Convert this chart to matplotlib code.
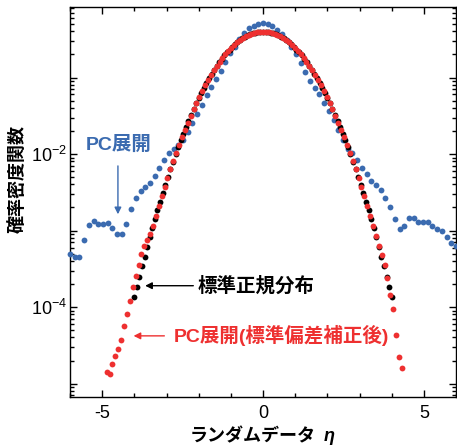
import matplotlib
matplotlib.use("Agg")
import matplotlib.pyplot as plt
import numpy as np
from matplotlib.ticker import FixedLocator, FixedFormatter, LogLocator, NullFormatter, MultipleLocator

plt.rcParams['font.family'] = ['Liberation Sans', 'Noto Sans CJK JP']
plt.rcParams['axes.unicode_minus'] = False
plt.rcParams['mathtext.fontset'] = 'custom'
plt.rcParams['mathtext.rm'] = 'Liberation Sans'

BLUE = '#3b6bb0'
RED = '#ee3030'

# PC展開 (blue), grid -6..6
blue_x = np.linspace(-6, 6, 83)
blue_pdf = [
    4.9e-4, 4.57e-4, 4.57e-4, 7.6e-4, 1.17e-3, 1.32e-3, 1.20e-3, 1.20e-3, 1.26e-3, 1.07e-3,
    8.9e-4, 8.9e-4, 1.20e-3, 1.91e-3, 2.63e-3, 3.31e-3, 3.72e-3, 4.2e-3, 5.1e-3, 6.6e-3,
    8.3e-3, 1.02e-2, 1.17e-2, 1.32e-2, 1.51e-2, 1.95e-2, 2.57e-2, 3.31e-2, 4.37e-2, 5.89e-2,
    7.6e-2, 9.5e-2, 0.123, 0.161, 0.207, 0.253, 0.316, 0.380, 0.440, 0.475,
    0.501, 0.515, 0.501, 0.471, 0.418, 0.371, 0.309, 0.253, 0.201, 0.156,
    0.117, 0.0912, 0.0724, 0.0603, 0.0468, 0.0363, 0.0275, 0.0209, 0.0151, 0.0117,
    0.0102, 8.3e-3, 6.5e-3, 5.4e-3, 4.5e-3, 3.9e-3, 3.39e-3, 2.63e-3, 2.0e-3, 1.41e-3,
    1.05e-3, 1.15e-3, 1.45e-3, 1.45e-3, 1.29e-3, 1.29e-3, 1.29e-3, 1.15e-3, 1.05e-3, 1.0e-3,
    8.3e-4, 6.9e-4, 6.2e-4,
]

# 標準正規分布 (black), grid -4..4
black_x = np.linspace(-4, 4, 101)
black_pdf = [
    1.338e-4, 1.837e-4, 2.505e-4, 3.395e-4, 4.573e-4, 6.119e-4, 8.131e-4, 1.074e-3, 1.410e-3, 1.840e-3,
    2.384e-3, 3.070e-3, 3.927e-3, 4.993e-3, 6.307e-3, 7.915e-3, 9.873e-3, 1.224e-2, 1.506e-2, 1.843e-2,
    2.239e-2, 2.705e-2, 3.246e-2, 3.871e-2, 4.586e-2, 5.399e-2, 6.316e-2, 7.341e-2, 8.478e-2, 9.728e-2,
    0.1109, 0.1257, 0.1415, 0.1582, 0.1758, 0.1942, 0.2131, 0.2323, 0.2516, 0.2709,
    0.2897, 0.3079, 0.3251, 0.3410, 0.3555, 0.3683, 0.3790, 0.3876, 0.3939, 0.3977,
    0.3989,
    0.3977, 0.3939, 0.3876, 0.3790, 0.3683, 0.3555, 0.3410, 0.3251, 0.3079, 0.2897,
    0.2709, 0.2516, 0.2323, 0.2131, 0.1942, 0.1758, 0.1582, 0.1415, 0.1257, 0.1109,
    9.728e-2, 8.478e-2, 7.341e-2, 6.316e-2, 5.399e-2, 4.586e-2, 3.871e-2, 3.246e-2, 2.705e-2, 2.239e-2,
    1.843e-2, 1.506e-2, 1.224e-2, 9.873e-3, 7.915e-3, 6.307e-3, 4.993e-3, 3.927e-3, 3.070e-3, 2.384e-3,
    1.840e-3, 1.410e-3, 1.074e-3, 8.131e-4, 6.119e-4, 4.573e-4, 3.395e-4, 2.505e-4, 1.837e-4, 1.338e-4,
]

# PC展開(標準偏差補正後) (red), grid -4.86..4.32
red_x = np.linspace(-4.86, 4.32, 103)
red_pdf = [
    1.41e-5, 1.35e-5, 1.78e-5, 2.32e-5, 2.8e-5, 3.76e-5, 5.6e-5, 8.2e-5, 1.19e-4, 1.84e-4,
    2.55e-4, 3.5e-4, 4.9e-4, 6.3e-4, 7.6e-4, 8.9e-4,
    1.151e-3, 1.559e-3, 2.096e-3, 2.794e-3, 3.695e-3, 4.847e-3, 6.307e-3, 8.142e-3, 1.042e-2, 1.324e-2,
    1.667e-2, 2.083e-2, 2.582e-2, 3.174e-2, 3.871e-2, 4.682e-2, 5.618e-2, 6.687e-2, 7.895e-2, 9.246e-2,
    0.1074, 0.1238, 0.1415, 0.1604, 0.1804, 0.2012, 0.2227, 0.2444, 0.2661, 0.2874,
    0.3079, 0.3271, 0.3448, 0.3605, 0.3739, 0.3847, 0.3925, 0.3973,
    0.3989,
    0.3973, 0.3925, 0.3847, 0.3739, 0.3605, 0.3448, 0.3271, 0.3079, 0.2874, 0.2661,
    0.2444, 0.2227, 0.2012, 0.1804, 0.1604, 0.1415, 0.1238, 0.1074, 9.246e-2, 7.895e-2,
    6.687e-2, 5.618e-2, 4.682e-2, 3.871e-2, 3.174e-2, 2.582e-2, 2.083e-2, 1.667e-2, 1.324e-2, 1.042e-2,
    8.142e-3, 6.307e-3, 4.847e-3, 3.695e-3, 2.794e-3, 2.096e-3, 1.559e-3, 1.151e-3,
    8.5e-4, 6.3e-4, 4.8e-4, 3.58e-4, 2.4e-4, 1.45e-4, 9.3e-5, 4.3e-5, 2.25e-5, 1.6e-5,
]

ytick_vals = [1e-5, 1e-4, 1e-3, 1e-2, 1e-1]
ytick_text = ['', r'$\mathregular{10^{-4}}$', '', r'$\mathregular{10^{-2}}$', '']
xtick_vals = [-5, 0, 5]
xtick_text = ['-5', '0', '5']

fig = plt.figure(figsize=(4.57, 4.48), dpi=100)
ax = fig.add_axes([70 / 457, 51 / 448, 386 / 457, 390 / 448])

ax.plot(blue_x, blue_pdf, 'o', color=BLUE, ms=4.2, mew=0, clip_on=False, zorder=3)
ax.plot(black_x, black_pdf, 'o', color='black', ms=4.2, mew=0, zorder=4)
ax.plot(red_x, red_pdf, 'o', color=RED, ms=4.2, mew=0, zorder=5)

ax.set_yscale('log')
ax.set_xlim(-6, 6)
ax.set_ylim(6.67e-6, 0.835)

ax.xaxis.set_major_locator(FixedLocator(xtick_vals))
ax.xaxis.set_major_formatter(FixedFormatter(xtick_text))
ax.xaxis.set_minor_locator(MultipleLocator(1))
ax.yaxis.set_major_locator(FixedLocator(ytick_vals))
ax.yaxis.set_major_formatter(FixedFormatter(ytick_text))
ax.yaxis.set_minor_locator(LogLocator(base=10, subs=np.arange(2, 10)))
ax.yaxis.set_minor_formatter(NullFormatter())

ax.tick_params(which='both', direction='in', top=True, right=True, width=1)
ax.tick_params(which='major', length=5)
ax.tick_params(which='minor', length=3)
ax.tick_params(axis='x', labelsize=13, pad=6)
ax.tick_params(axis='y', labelsize=13, pad=2)
for s in ax.spines.values():
    s.set_linewidth(1.0)

# axis labels (x label split so that eta can be bold italic)
fig.text(316 / 457, 1 - 441 / 448, 'ランダムデータ', fontsize=13, fontweight='bold',
         ha='right', va='baseline')
fig.text(324 / 457, 1 - 441 / 448, 'η', fontsize=13, fontweight='bold', style='italic',
         ha='left', va='baseline')
fig.text(17.5 / 457, 1 - 179 / 448, '確率密度関数', rotation=90, fontsize=13,
         fontweight='bold', ha='center', va='center')

# annotations
ax.annotate('', xy=(-4.51, 1.5e-3), xytext=(-4.51, 7.6e-3),
            arrowprops=dict(arrowstyle='-|>', color=BLUE, lw=1, mutation_scale=10))
ax.text(-5.5, 1.31e-2, 'PC展開', color=BLUE, fontsize=14, fontweight='bold',
        ha='left', va='center')

ax.annotate('', xy=(-3.75, 1.9e-4), xytext=(-2.08, 1.9e-4),
            arrowprops=dict(arrowstyle='-|>', color='black', lw=1, mutation_scale=10))
ax.text(-2.04, 1.9e-4, '標準正規分布', color='black', fontsize=14, fontweight='bold',
        ha='left', va='center')

ax.annotate('', xy=(-4.11, 4.2e-5), xytext=(-2.98, 4.2e-5),
            arrowprops=dict(arrowstyle='-|>', color=RED, lw=1, mutation_scale=10))
ax.text(-2.77, 4.2e-5, 'PC展開(標準偏差補正後)', color=RED, fontsize=14, fontweight='bold',
        ha='left', va='center')

fig.savefig('out.png', dpi=100)
